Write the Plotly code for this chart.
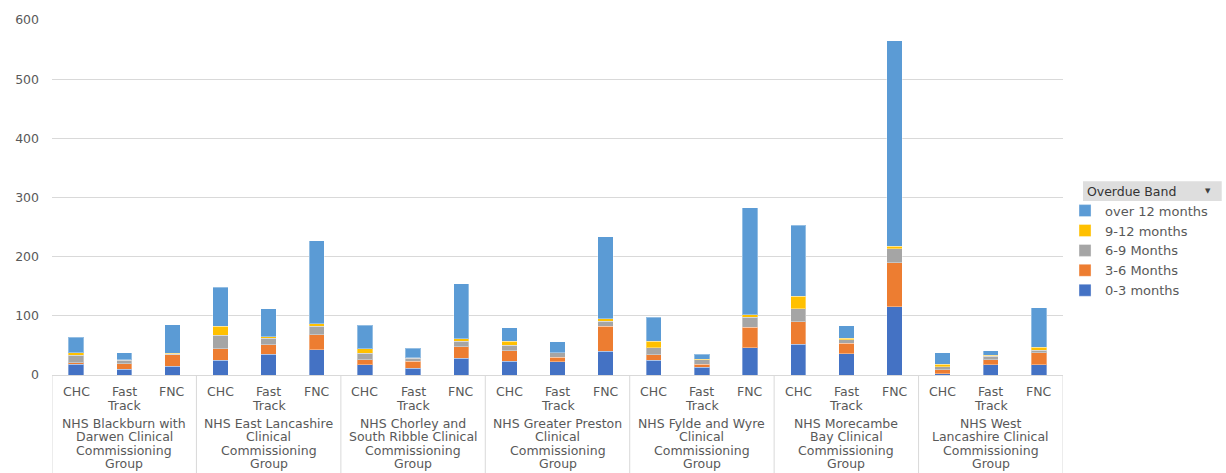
import plotly.graph_objects as go

groups = [
    "NHS Blackburn with<br>Darwen Clinical<br>Commissioning<br>Group",
    "NHS East Lancashire<br>Clinical<br>Commissioning<br>Group",
    "NHS Chorley and<br>South Ribble Clinical<br>Commissioning<br>Group",
    "NHS Greater Preston<br>Clinical<br>Commissioning<br>Group",
    "NHS Fylde and Wyre<br>Clinical<br>Commissioning<br>Group",
    "NHS Morecambe<br>Bay Clinical<br>Commissioning<br>Group",
    "NHS West<br>Lancashire Clinical<br>Commissioning<br>Group",
]
subcats = ["CHC", "Fast<br>Track", "FNC"]

m0_3   = [18, 10, 15, 25, 35, 43, 17, 11, 28, 23, 22, 40, 25, 13, 46, 52, 36, 115, 2, 17, 17]
m3_6   = [3, 9, 19, 19, 16, 25, 9, 12, 20, 18, 8, 42, 9, 5, 35, 38, 18, 75, 7, 9, 21]
m6_9   = [12, 6, 1, 23, 11, 14, 11, 5, 9, 9, 8, 9, 12, 8, 17, 22, 6, 23, 5, 6, 4]
m9_12  = [5, 1, 2, 15, 3, 5, 7, 1, 4, 7, 0, 4, 11, 1, 4, 21, 2, 5, 4, 1, 5]
over12 = [26, 12, 48, 66, 47, 140, 40, 16, 93, 23, 18, 139, 41, 8, 181, 120, 21, 347, 20, 8, 67]

series = [
    ("0-3 months", m0_3, "#4472C4"),
    ("3-6 Months", m3_6, "#ED7D31"),
    ("6-9 Months", m6_9, "#A5A5A5"),
    ("9-12 months", m9_12, "#FFC000"),
    ("over 12 months", over12, "#5B9BD5"),
]

keys = [f"{gi}|{s}" for gi in range(len(groups)) for s in subcats]
n = len(keys)

fig = go.Figure()
for name, vals, col in series:
    fig.add_trace(go.Bar(
        x=keys, y=vals, name=name, width=0.32,
        marker=dict(color=col, line=dict(color="rgba(255,255,255,0.35)", width=1)),
    ))

FONT = "DejaVu Sans"
TXT = "#595959"
GRID = "#D9D9D9"

annotations = []
shapes = []
# subcategory labels (one annotation per line, 14px line spacing)
for i, k in enumerate(keys):
    sub = subcats[i % len(subcats)]
    for li, line in enumerate(sub.split("<br>")):
        annotations.append(dict(x=i, y=0, xref="x", yref="paper", text=line, showarrow=False,
                                yanchor="middle", yshift=-(16 + 14 * li),
                                font=dict(family=FONT, size=12.5, color=TXT)))
# group labels (one annotation per line)
for gi, g in enumerate(groups):
    for li, line in enumerate(g.split("<br>")):
        annotations.append(dict(x=gi * 3 + 1, y=0, xref="x", yref="paper", text=line, showarrow=False,
                                yanchor="middle", yshift=-(48 + 13.5 * li),
                                font=dict(family=FONT, size=12.5, color=TXT)))
# separators between groups
for b in range(len(groups) + 1):
    xb = b * 3 - 0.5
    shapes.append(dict(type="line", xref="x", yref="paper", x0=xb, x1=xb, y0=0, y1=-0.3,
                       line=dict(color=GRID, width=1)))

# legend header band
shapes.append(dict(type="rect", xref="paper", yref="paper", x0=1.0198, x1=1.157, y0=0.490, y1=0.546,
                   fillcolor="#DEDEDE", line=dict(width=0), layer="below"))
annotations.append(dict(x=1.148, y=0.518, xref="paper", yref="paper", text="▼", showarrow=False,
                        font=dict(family=FONT, size=7, color="#404040")))

fig.update_layout(
    width=1226, height=473,
    margin=dict(l=52, r=163, t=18, b=98),
    paper_bgcolor="white", plot_bgcolor="white",
    barmode="stack",
    showlegend=True,
    legend=dict(
        x=1.002, y=0.551, xanchor="left", yanchor="top",
        traceorder="reversed",
        title=dict(text="&nbsp;&nbsp;&nbsp;&nbsp;&nbsp;Overdue Band",
                   font=dict(family=FONT, size=12.5, color="#333333")),
        font=dict(family=FONT, size=13, color=TXT),
        bgcolor="rgba(0,0,0,0)",
        itemwidth=30,
    ),
    annotations=annotations,
    shapes=shapes,
    font=dict(family=FONT, color=TXT),
)
fig.update_xaxes(showticklabels=False, range=[-0.5, n - 0.5], showgrid=False,
                 showline=True, linecolor=GRID, linewidth=1, ticks="")
fig.update_yaxes(range=[0, 600], dtick=100, showgrid=True, gridcolor=GRID, gridwidth=1,
                 zeroline=False, showline=False, ticklabelstandoff=12,
                 tickfont=dict(family=FONT, size=12.5, color=TXT))

fig.write_html("out.html")
